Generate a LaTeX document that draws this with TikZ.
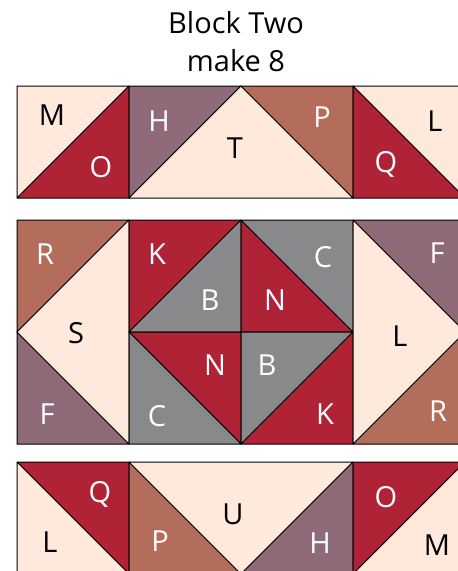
\documentclass[tikz,border=0pt]{standalone}
\usepackage{fontspec}
\setmainfont{Open Sans}
\definecolor{cream}{HTML}{FEE9DC}
\definecolor{crimson}{HTML}{B02235}
\definecolor{mauve}{HTML}{8F6B7A}
\definecolor{terra}{HTML}{B46C5B}
\definecolor{steel}{HTML}{88898B}
\tikzset{
  piece/.style={draw=black,line width=1pt,line join=miter,miter limit=2},
  dark/.style={font=\fontsize{29}{29}\selectfont,text=black,inner sep=0pt},
  pale/.style={font=\fontsize{29}{29}\selectfont,text=white,inner sep=0pt},
  heading/.style={font=\fontsize{29}{38}\selectfont,text=black,align=center,inner sep=0pt},
}
\newcommand{\patch}[4]{\filldraw[piece,fill=#1] #2 -- #3 -- #4 -- cycle;}
\begin{document}
\begin{tikzpicture}[x=1pt,y=-1pt]
\useasboundingbox (0,0) rectangle (458,571);
\clip (0,0) rectangle (458,571);
\node[heading] (title) at (236,42) {Block Two\\make 8};
% top row
\patch{cream}{(17,86)}{(129,86)}{(17,198)}
\patch{crimson}{(17,198)}{(129,86)}{(129,198)}
\patch{mauve}{(129,86)}{(241,86)}{(129,198)}
\patch{cream}{(129,198)}{(241,86)}{(353,198)}
\patch{terra}{(241,86)}{(353,86)}{(353,198)}
\patch{cream}{(353,86)}{(465,86)}{(465,198)}
\patch{crimson}{(353,86)}{(465,198)}{(353,198)}
% middle row, left
\patch{terra}{(17,220)}{(129,220)}{(17,332)}
\patch{mauve}{(17,332)}{(129,444)}{(17,444)}
\patch{cream}{(129,220)}{(129,444)}{(17,332)}
% middle row, centre
\patch{crimson}{(129,220)}{(241,220)}{(129,332)}
\patch{steel}{(241,220)}{(241,332)}{(129,332)}
\patch{crimson}{(241,220)}{(353,332)}{(241,332)}
\patch{steel}{(241,220)}{(353,220)}{(353,332)}
\patch{crimson}{(129,332)}{(241,332)}{(241,444)}
\patch{steel}{(129,332)}{(241,444)}{(129,444)}
\patch{steel}{(241,332)}{(353,332)}{(241,444)}
\patch{crimson}{(353,332)}{(353,444)}{(241,444)}
% middle row, right
\patch{mauve}{(353,220)}{(465,220)}{(465,332)}
\patch{terra}{(465,332)}{(465,444)}{(353,444)}
\patch{cream}{(353,220)}{(465,332)}{(353,444)}
% bottom row
\patch{crimson}{(17,462)}{(129,462)}{(129,574)}
\patch{cream}{(17,462)}{(129,574)}{(17,574)}
\patch{terra}{(129,462)}{(241,574)}{(129,574)}
\patch{cream}{(129,462)}{(353,462)}{(241,574)}
\patch{mauve}{(353,462)}{(353,574)}{(241,574)}
\patch{crimson}{(353,462)}{(465,462)}{(353,574)}
\patch{cream}{(465,462)}{(465,574)}{(353,574)}
% labels
\node[dark] (m1) at (52,115) {M};
\node[pale] (o1) at (101,167) {O};
\node[pale] (h1) at (159,121) {H};
\node[dark] (t1) at (235,148) {T};
\node[pale] (p1) at (322,117) {P};
\node[dark] (l1) at (435,121) {L};
\node[pale] (q1) at (386,164) {Q};
\node[pale] (r1) at (45,254) {R};
\node[dark] (s1) at (76,333) {S};
\node[pale] (f1) at (47,414) {F};
\node[pale] (k1) at (157,254) {K};
\node[pale] (b1) at (210,300) {B};
\node[pale] (n1) at (275,300) {N};
\node[pale] (c1) at (323,257) {C};
\node[pale] (f2) at (437,253) {F};
\node[dark] (l2) at (400,336) {L};
\node[pale] (r2) at (438,411) {R};
\node[pale] (n2) at (215,365) {N};
\node[pale] (b2) at (267,365) {B};
\node[pale] (c2) at (157,416) {C};
\node[pale] (k2) at (325,414) {K};
\node[pale] (q2) at (100,494) {Q};
\node[dark] (l3) at (50,542) {L};
\node[pale] (p2) at (160,541) {P};
\node[dark] (u1) at (233,514) {U};
\node[pale] (h2) at (320,543) {H};
\node[pale] (o2) at (386,497) {O};
\node[dark] (m2) at (437,545) {M};
\end{tikzpicture}
\end{document}
